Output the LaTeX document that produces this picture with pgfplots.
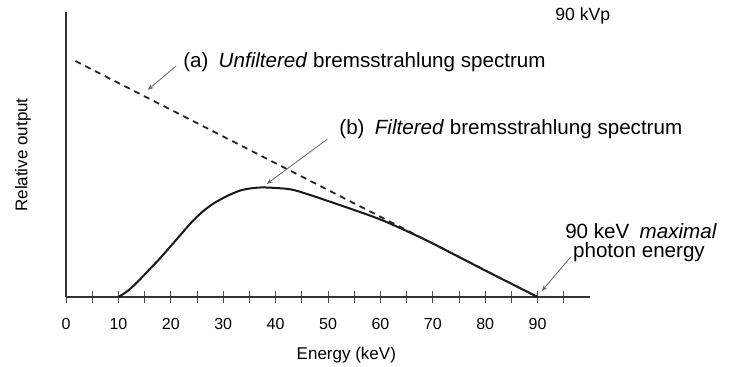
\documentclass[border=0pt]{standalone}
\usepackage{fontspec}
\setmainfont{Liberation Sans}
\usepackage{pgfplots}
\pgfplotsset{compat=1.18}
\usetikzlibrary{arrows.meta}
\begin{document}
\begin{tikzpicture}
\useasboundingbox (-33pt,-34.5pt) rectangle (332.5pt,148.5pt);
\begin{axis}[
  anchor=origin, at={(0,0)},
  x=2.62pt, y=0.5pt,
  xmin=0, xmax=100, ymin=0, ymax=285,
  axis lines=left,
  axis line style={-, black!80, line width=0.6pt},
  xtick={0,10,...,90},
  minor xtick={5,15,...,95},
  xtick align=center,
  major tick length=6pt, minor tick length=6pt,
  ytick=\empty,
  tick style={black!70, line width=0.5pt},
  xticklabel style={font=\fontsize{8}{9}\selectfont, yshift=-4pt},
  /pgf/number format/assume math mode=true,
  clip=false,
]
\addplot[black!90, line width=1pt, smooth, tension=0.6] coordinates {
(10,0) (12,7) (14,17) (16,28) (18,39) (20,51) (22,63) (24,75) (26,85) (28,93) (30,99) (32,104) (34,107.5) (37,109.5) (40,109) (43,107.5) (46,103) (50,96) (55,87) (60,77.5) (65,66) (70,53.5) (75,40) (80,26.5) (85,13.2) (90,0)};
\addplot[black!85, line width=0.9pt, dash pattern=on 3pt off 2.5pt] coordinates {(1.8,236) (90,0)};
\begin{scope}[every node/.style={inner sep=0pt, anchor=west, font=\fontsize{10.3}{12}\selectfont}]
\node[font=\fontsize{8.8}{10}\selectfont] at (axis cs:93.3,281) {90 kVp};
\node at (axis cs:22.3,235) {(a)\enspace \textit{Unfiltered} bremsstrahlung spectrum};
\node at (axis cs:52.1,168) {(b)\enspace \textit{Filtered} bremsstrahlung spectrum};
\node at (axis cs:95.2,66) {90 keV\enspace\textit{maximal}};
\node at (axis cs:96.7,45) {photon energy};
\end{scope}
\draw[-{Stealth[length=3pt]}, black!60, line width=0.4pt] (axis cs:21,231) -- (axis cs:15.6,207);
\draw[-{Stealth[length=3pt]}, black!60, line width=0.4pt] (axis cs:49.9,158) -- (axis cs:38.3,113);
\draw[-{Stealth[length=3pt]}, black!60, line width=0.4pt] (axis cs:96.3,40) -- (axis cs:90.8,6);
\node[rotate=90, font=\fontsize{8.5}{10}\selectfont] at (axis cs:-8.2,142) {Relative output};
\node[font=\fontsize{8.5}{10}\selectfont] at (axis cs:53.5,-58) {Energy (keV)};
\end{axis}
\end{tikzpicture}
\end{document}
